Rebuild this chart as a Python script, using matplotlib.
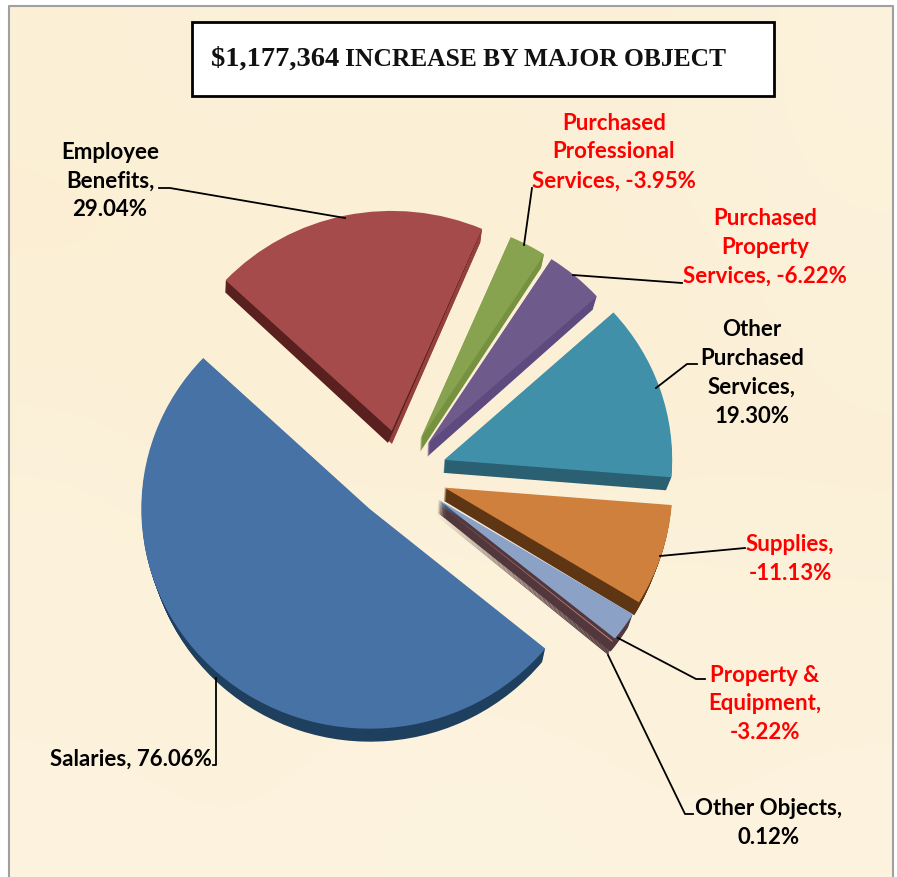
import matplotlib
matplotlib.use('Agg')
import matplotlib.pyplot as plt
from matplotlib.colors import LinearSegmentedColormap
from matplotlib.patches import Rectangle
from matplotlib.transforms import Affine2D

# chart data, in drawing order (clockwise)
names = ['Salaries', 'Employee\nBenefits', 'Purchased\nProfessional\nServices',
         'Purchased\nProperty\nServices', 'Other\nPurchased\nServices',
         'Supplies', 'Property &\nEquipment', 'Other Objects']
pct = [76.06, 29.04, -3.95, -6.22, 19.30, -11.13, -3.22, 0.12]
title_amount = '$1,177,364'
title_rest = 'INCREASE BY MAJOR OBJECT'

top_colors = ['#4772a5', '#a64b4b', '#87a350', '#6f5a8c', '#4190a9', '#cf803c', '#8ba1c6', '#b87a7a']
rim_colors = ['#1f3f5f', '#5a2020', '#76913f', '#5f4a80', '#2b6072', '#5f3614', '#3d5878', '#52383c']

# rough mottling of the paper, read by eye
paper_tone = [[0.35, 0.50, 0.30, 0.45, 0.40, 0.55],
              [0.25, 0.30, 0.35, 0.30, 0.45, 0.50],
              [0.40, 0.30, 0.25, 0.35, 0.30, 0.45],
              [0.55, 0.45, 0.50, 0.40, 0.50, 0.40],
              [0.60, 0.55, 0.65, 0.60, 0.55, 0.60],
              [0.70, 0.65, 0.70, 0.75, 0.65, 0.70]]

# where the labels sit and how the leader lines run, in image pixels
label_xy = [(131, 759), (110, 181), (614, 152), (765, 247), (752, 373), (790, 559), (765, 704), (769, 823)]
leaders = [[(213, 765), (216, 765), (216, 678)],
           [(159, 188), (170, 188), (345, 218)],
           [(532, 188), (524, 245)],
           [(682, 283), (573, 275)],
           [(697, 364), (687, 364), (656, 388)],
           [(745, 548), (660, 556)],
           [(705, 679), (696, 679), (618, 638)],
           [(693, 814), (685, 814), (608, 655)]]

W, H = 897, 877
CX, CY = 401, 474     # pie centre, pixels
RX, RY = 228, 220     # squashed radius, pixels
DEPTH = 13
SHRINK = 0.02         # walls narrow a little going down, like the perspective in the original
START = -39.5

# how far each slice is pulled out
explode = [0.21, 0.20, 0.18, 0.18, 0.20, 0.20, 0.20, 0.20]

fig = plt.figure(figsize=(W / 100, H / 100), dpi=100, facecolor='white')

# background + frame
bg = fig.add_axes([0, 0, 1, 1], zorder=0)
paper = LinearSegmentedColormap.from_list('paper', ['#fbecce', '#fdf6e5'])
bg.imshow(paper_tone, cmap=paper, vmin=0, vmax=1, extent=(9, 893, H, 6),
          interpolation='bicubic', aspect='auto')
bg.set_xlim(0, W)
bg.set_ylim(H, 0)
bg.axis('off')
bg.plot([9, 9, 893, 893], [H, 6, 6, H], color='#a0a0a0', lw=1.5)

# pie, one unit of radius is RX by RY pixels
pie_ax = fig.add_axes([0, 0, 1, 1], zorder=1)
values = [abs(p) for p in pct]
wedge_kw = dict(linewidth=0, antialiased=True)


def draw_layer(colors, dx_px, dy_px, xscale=1.0):
    wedges, _ = pie_ax.pie(values, explode=explode, colors=colors, startangle=START,
                           counterclock=False, radius=1, center=(0, -dy_px / RY),
                           wedgeprops=wedge_kw)
    squeeze = Affine2D().scale(xscale, 1).translate(dx_px / RX, 0)
    for w in wedges:
        w.set_transform(squeeze + pie_ax.transData)


# side walls: stacked copies of the pie going down
# the red slice has a lighter wall on its right side
for k in range(1, DEPTH + 1):
    layer_rims = list(rim_colors)
    layer_rims[1] = '#93403f'
    # the thin last slice is too narrow to show its wall, so let it take over low down
    if k > 4:
        layer_rims[6] = rim_colors[7]
    draw_layer(layer_rims, 0, k, 1 - SHRINK * k / DEPTH)
for k in range(1, DEPTH + 1):
    only_red = ['none'] * len(values)
    only_red[1] = rim_colors[1]
    draw_layer(only_red, -4 * k / DEPTH, 12 * k / DEPTH, 1 - SHRINK * k / DEPTH)
draw_layer(top_colors, 0, 0)

pie_ax.set_aspect('auto')
pie_ax.set_xlim(-CX / RX, (W - CX) / RX)
pie_ax.set_ylim(-(H - CY) / RY, CY / RY)
pie_ax.axis('off')
pie_ax.patch.set_visible(False)

# overlay for leaders, labels and title
over = fig.add_axes([0, 0, 1, 1], zorder=2)
over.set_xlim(0, W)
over.set_ylim(H, 0)
over.axis('off')
over.patch.set_visible(False)

for line in leaders:
    over.plot([p[0] for p in line], [p[1] for p in line], color='black', lw=1.3,
              solid_joinstyle='round')

for name, p, xy in zip(names, pct, label_xy):
    if name == 'Salaries' or name.startswith('Purchased'):
        txt = f'{name}, {p:.2f}%'
    else:
        txt = f'{name},\n{p:.2f}%'
    over.text(xy[0], xy[1], txt, ha='center', va='center', multialignment='center',
              family=['Lato', 'DejaVu Sans'], fontweight='bold', fontsize=16, linespacing=1.47,
              color='red' if p < 0 else 'black', parse_math=False)

over.add_patch(Rectangle((192, 22), 582, 74, facecolor='white', edgecolor='black', lw=2))
over.text(211, 59, title_amount, ha='left', va='center', family='Liberation Serif',
          fontweight='bold', fontsize=20.5, color='#111111', parse_math=False)
over.text(345, 59, title_rest, ha='left', va='center', family='Liberation Serif',
          fontweight='bold', fontsize=18.4, color='#111111', parse_math=False)

fig.savefig('out.png', dpi=100)
